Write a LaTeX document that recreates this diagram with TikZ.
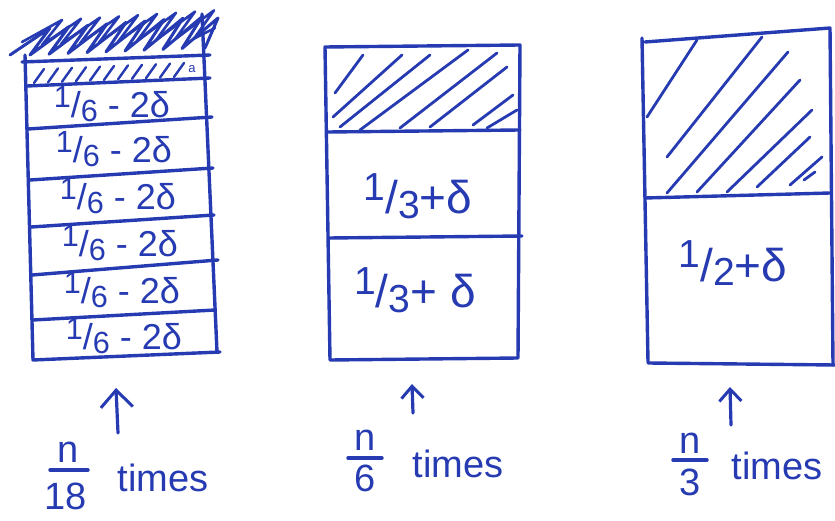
\documentclass[tikz,border=0pt]{standalone}
\usepackage{fontspec}
\setmainfont{Liberation Sans}
\usetikzlibrary{arrows.meta}
\definecolor{ink}{RGB}{38,58,178}
\newcommand\hfr[2]{\raisebox{0.3em}{\scalebox{0.85}{#1}}/\raisebox{-0.1em}{\scalebox{0.85}{#2}}}
\begin{document}
\begin{tikzpicture}[x=1pt,y=-1pt,
  pen/.style={draw=ink,line width=3.4pt,line cap=round,line join=round},
  hatch/.style={draw=ink,line width=2.8pt,line cap=round},
  rowlab/.style={text=ink,font=\fontsize{36}{38}\selectfont,inner sep=0pt},
  biglab/.style={text=ink,font=\fontsize{46}{48}\selectfont,inner sep=0pt},
  caplab/.style={text=ink,font=\fontsize{38}{40}\selectfont,inner sep=0pt},
  uparrow/.style={draw=ink,line width=3.2pt,line cap=round,-{Straight Barb[length=17pt,width=32pt,line width=3pt]}},
  smallarrow/.style={draw=ink,line width=3.2pt,line cap=round,-{Straight Barb[length=12pt,width=22pt,line width=3pt]}}]
\useasboundingbox (0,0) rectangle (835,521);
% ---------------- left box ----------------
\draw[hatch,line width=3pt,line join=round] (10,55) \foreach \i in {0,...,8} { -- (50+19*\i,28-1.4*\i) -- (30+19*\i,55-0.8*\i) } -- (218,18) -- (205,48);
\draw[hatch,line width=2.6pt,line join=round] (22,42) \foreach \i in {0,...,8} { -- (62+19*\i,20-1.2*\i) -- (42+19*\i,45-0.8*\i) } -- (215,28);
\draw[pen] (25,55) -- (33,360) -- (220,352);
\draw[pen] (202,14) -- (217,352);
\draw[pen] (22,62) -- (210,55);
\draw[pen] (27,86) -- (210,78);
\foreach \i in {0,...,10} \draw[hatch,line width=2.4pt] (34+14*\i,83-0.6*\i) -- (44+14*\i,69-0.6*\i);
\node[text=ink,font=\fontsize{13}{13}\selectfont,inner sep=0pt] (amark) at (192,69) {a};
\draw[pen] (28,129) -- (212,117);
\draw[pen] (30,180) -- (213,168);
\draw[pen] (31,227) -- (214,215);
\draw[pen] (32,275) -- (218,260);
\draw[pen] (33,320) -- (215,310);
\node[rowlab] (r1) at (112,104) {\hfr{1}{6} - 2δ};
\node[rowlab] (r2) at (114,149) {\hfr{1}{6} - 2δ};
\node[rowlab] (r3) at (118,196) {\hfr{1}{6} - 2δ};
\node[rowlab] (r4) at (120,243) {\hfr{1}{6} - 2δ};
\node[rowlab] (r5) at (122,290) {\hfr{1}{6} - 2δ};
\node[rowlab] (r6) at (124,336) {\hfr{1}{6} - 2δ};
% ---------------- middle box ----------------
\draw[pen] (325,47) -- (520,45) -- (518,358) -- (330,360) -- cycle;
\draw[pen] (328,132) -- (520,130);
\draw[pen] (329,238) -- (522,236);
\draw[hatch] (335,93) -- (363,55);
\draw[hatch] (333,117) -- (402,55);
\draw[hatch] (340,127) -- (430,55);
\draw[hatch] (360,130) -- (468,50);
\draw[hatch] (400,128) -- (497,53);
\draw[hatch] (430,127) -- (507,67);
\draw[hatch] (473,125) -- (513,95);
\draw[hatch] (487,128) -- (517,110);
\node[biglab] (m1) at (418,196) {\hfr{1}{3}+δ};
\node[biglab] (m2) at (415,290) {\hfr{1}{3}+ δ};
% ---------------- right box ----------------
\draw[pen] (642,38) -- (648,362);
\draw[pen] (645,42) -- (830,28) -- (833,365);
\draw[pen] (648,363) -- (835,365);
\draw[pen] (645,198) -- (830,193);
\draw[hatch] (647,117) -- (697,40);
\draw[hatch] (667,157) -- (762,37);
\draw[hatch] (667,193) -- (788,52);
\draw[hatch] (697,192) -- (800,80);
\draw[hatch] (727,192) -- (812,110);
\draw[hatch] (757,187) -- (810,137);
\draw[hatch] (790,185) -- (822,157);
\draw[hatch] (804,180) -- (815,172);
\node[biglab] (rr) at (733,263) {\hfr{1}{2}+δ};
% ---------------- captions ----------------
\node[caplab] (c1n) at (68,452) {n};
\node[caplab] (c1d) at (66,496) {18};
\draw[pen] (50,470) -- (88,470);
\node[caplab] (c1t) at (163,478) {times};
\node[caplab] (c2n) at (365,440) {n};
\node[caplab] (c2d) at (365,478) {6};
\draw[pen] (348,458) -- (382,458);
\node[caplab] (c2t) at (458,464) {times};
\node[caplab] (c3n) at (690,443) {n};
\node[caplab] (c3d) at (690,482) {3};
\draw[pen] (673,460) -- (707,460);
\node[caplab] (c3t) at (777,466) {times};
\coordinate (a1s) at (118,433); \coordinate (a1e) at (116,388);
\coordinate (a2s) at (413,413); \coordinate (a2e) at (412,384);
\coordinate (a3s) at (731,425); \coordinate (a3e) at (730,387);
\draw[uparrow] (a1s) -- (a1e);
\draw[smallarrow] (a2s) -- (a2e);
\draw[smallarrow] (a3s) -- (a3e);
\end{tikzpicture}
\end{document}
